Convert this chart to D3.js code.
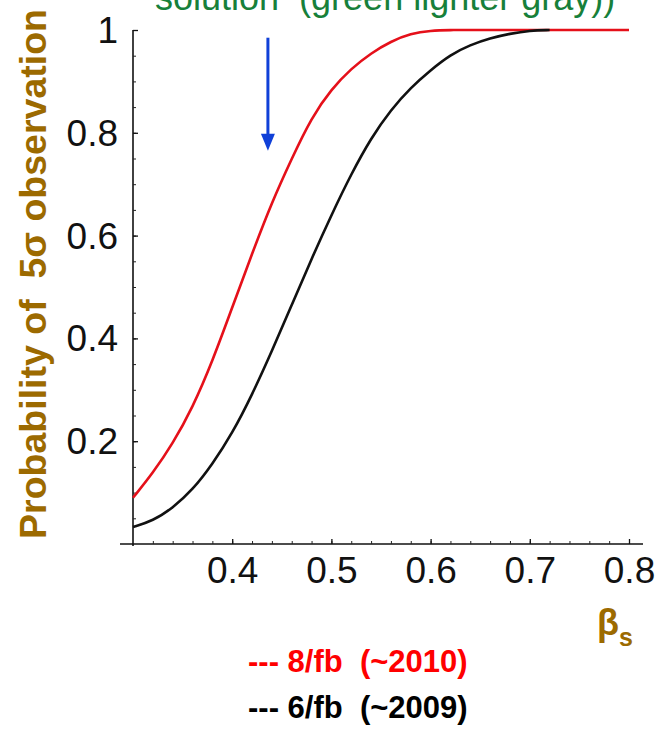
<!DOCTYPE html>
<html>
<head>
<meta charset="utf-8">
<script src="https://cdn.jsdelivr.net/npm/d3@7"></script>
<style>
  html, body { margin: 0; padding: 0; background: #fff; }
  svg { display: block; }
  text { font-family: "Liberation Sans", Arial, Helvetica, sans-serif; }
</style>
</head>
<body>
<svg id="chart" width="659" height="729"></svg>
<script>
// ---- data ----
const betaS   = [0.30,0.32,0.34,0.36,0.38,0.40,0.42,0.44,0.46,0.48,0.50,0.52,0.54,0.56,0.58,0.60,0.62,0.64,0.66,0.68,0.70,0.72,0.74,0.76,0.78,0.80];
const prob8fb = [0.090,0.138,0.195,0.265,0.355,0.460,0.565,0.665,0.750,0.830,0.885,0.925,0.955,0.978,0.993,0.999,1.000,1.000,1.000,1.000,1.000,1.000,1.000,1.000,1.000,1.000];
const prob6fb = [0.033,0.045,0.070,0.105,0.155,0.215,0.290,0.375,0.465,0.555,0.640,0.720,0.790,0.845,0.888,0.922,0.952,0.971,0.984,0.993,0.999,1.000,null,null,null,null];
const xTicks = [0.4,0.5,0.6,0.7,0.8];
const xMinorTicks = d3.range(16,41).map(i => i/50);          // every 0.02
const yTicks = [0.2,0.4,0.6,0.8,1];
const yMinorTicks = d3.range(1,21).map(i => i/20);            // every 0.05
const yTickLabels = ["0.2","0.4","0.6","0.8","1"];
const arrowBeta = 0.436, arrowTop = 0.985, arrowTip = 0.765;
const legendItems = [{label:"--- 8/fb  (~2010)", color:"#ff0000"}, {label:"--- 6/fb  (~2009)", color:"#000000"}];
const topText = "solution  (green lighter gray))";

// ---- scales ----
const svg = d3.select("#chart");
const x = d3.scaleLinear().domain([0.3, 0.8]).range([133, 629]);
const y = d3.scaleLinear().domain([0, 1]).range([544, 30]);

// top (clipped) text
svg.append("text").attr("x", 155).attr("y", 10)
  .attr("fill", "#17803a").attr("font-size", 36)
  .style("white-space", "pre").text(topText);

// x axis
svg.append("line").attr("x1", 120).attr("x2", 643).attr("y1", y(0)).attr("y2", y(0))
  .attr("stroke", "#111").attr("stroke-width", 1.6);
const gxMinor = svg.append("g").attr("transform", `translate(0,${y(0)})`)
  .call(d3.axisBottom(x).tickValues(xMinorTicks).tickSize(-3).tickFormat(""));
gxMinor.select(".domain").remove();
gxMinor.selectAll("line").attr("stroke", "#222");
const gx = svg.append("g").attr("transform", `translate(0,${y(0)})`)
  .call(d3.axisBottom(x).tickValues(xTicks).tickSize(-5).tickPadding(13).tickFormat(d3.format(".1f")));
gx.select(".domain").remove();
gx.selectAll("line").attr("stroke", "#111").attr("stroke-width", 1.3);
gx.selectAll("text").attr("font-size", 37).attr("fill", "#111")
  .style("font-family", "'Liberation Sans', Arial, sans-serif");

// y axis
svg.append("line").attr("x1", x(0.3)).attr("x2", x(0.3)).attr("y1", y(0)+2).attr("y2", y(1))
  .attr("stroke", "#111").attr("stroke-width", 1.6);
const gyMinor = svg.append("g").attr("transform", `translate(${x(0.3)},0)`)
  .call(d3.axisLeft(y).tickValues(yMinorTicks).tickSize(-3).tickFormat(""));
gyMinor.select(".domain").remove();
gyMinor.selectAll("line").attr("stroke", "#222");
const gy = svg.append("g").attr("transform", `translate(${x(0.3)},0)`)
  .call(d3.axisLeft(y).tickValues(yTicks).tickSize(-5).tickPadding(15)
    .tickFormat((d,i) => yTickLabels[i]));
gy.select(".domain").remove();
gy.selectAll("line").attr("stroke", "#111").attr("stroke-width", 1.3);
gy.selectAll("text").attr("font-size", 37).attr("fill", "#111").attr("dy", "0.34em")
  .style("font-family", "'Liberation Sans', Arial, sans-serif");

// y title
svg.append("text")
  .attr("transform", "translate(46,274) rotate(-90)")
  .attr("text-anchor", "middle")
  .attr("font-size", 37.5).attr("font-weight", "bold").attr("fill", "#9c6a00")
  .style("white-space", "pre")
  .text("Probability of  5σ observation");

// curves
const line = d3.line().defined(d => d[1] !== null).x(d => x(d[0])).y(d => y(d[1])).curve(d3.curveBasis);
svg.append("path").datum(betaS.map((b,i) => [b, prob8fb[i]]))
  .attr("d", line).attr("fill", "none")
  .attr("stroke", "#e5101a").attr("stroke-width", 2.6);
svg.append("path").datum(betaS.map((b,i) => [b, prob6fb[i]]))
  .attr("d", line).attr("fill", "none")
  .attr("stroke", "#111").attr("stroke-width", 2.6);

// arrow
const ax = x(arrowBeta);
svg.append("line").attr("x1", ax).attr("x2", ax).attr("y1", y(arrowTop)).attr("y2", y(arrowTip) - 14)
  .attr("stroke", "#1040d8").attr("stroke-width", 3);
svg.append("path")
  .attr("d", `M${ax-7},${y(arrowTip)-17} L${ax+7},${y(arrowTip)-17} L${ax},${y(arrowTip)} Z`)
  .attr("fill", "#1040d8");

// beta_s label
const bl = svg.append("text").attr("x", 597).attr("y", 635)
  .attr("font-weight", "bold").attr("fill", "#9c6a00");
bl.append("tspan").attr("font-size", 36).text("β");
bl.append("tspan").attr("font-size", 25).attr("dy", 11).text("s");

// legend
svg.selectAll(".leg").data(legendItems).join("text")
  .attr("class", "leg")
  .attr("x", 248).attr("y", (d,i) => 672 + i*46)
  .attr("font-size", 31).attr("font-weight", "bold")
  .attr("fill", d => d.color)
  .style("white-space", "pre")
  .text(d => d.label);
</script>
</body>
</html>
